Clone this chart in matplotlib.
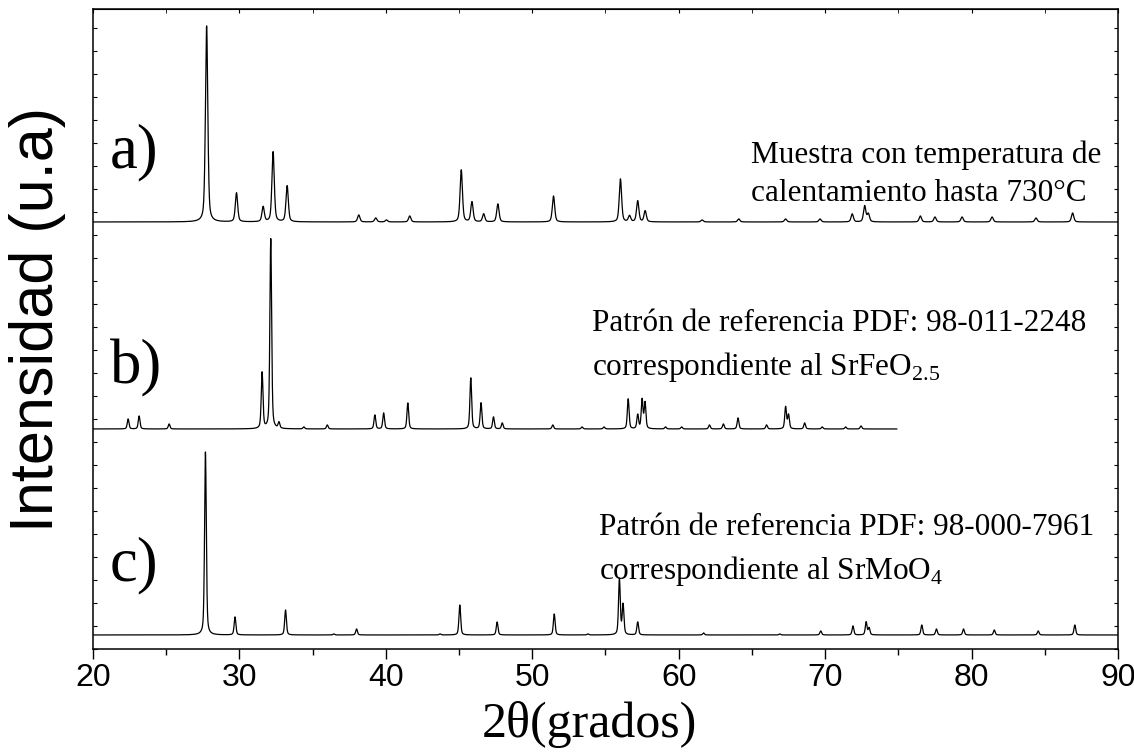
import numpy as np
import matplotlib
matplotlib.use('Agg')
import matplotlib.pyplot as plt
from matplotlib.ticker import MultipleLocator

plt.rcParams['mathtext.fontset'] = 'custom'
plt.rcParams['mathtext.rm'] = 'Liberation Serif'

# Peak positions (2theta, degrees) and heights (a.u.)
pos_a = [27.76, 29.80, 31.62, 32.30, 33.26, 38.15, 39.31, 40.04, 41.63, 45.15,
         45.88, 46.68, 47.65, 51.45, 56.02, 56.64, 57.20, 57.71, 61.6, 64.1,
         67.3, 69.65, 71.85, 72.7, 72.95, 76.5, 77.5, 79.35, 81.4, 84.4, 86.9]
hgt_a = [196, 29, 15, 70, 36, 7, 4, 2, 6, 52,
         20, 8, 18, 26, 43, 6, 21, 11, 2, 3,
         3, 3, 8, 16, 8, 6, 5, 5, 5, 4, 9]

pos_b = [22.4, 23.15, 25.2, 31.55, 32.14, 32.7, 34.4, 36.0, 39.25, 39.85,
         41.5, 45.8, 46.5, 47.35, 47.95, 51.4, 53.4, 54.9, 56.55, 57.2,
         57.5, 57.7, 59.1, 60.2, 62.1, 63.05, 64.05, 66.0, 67.3, 67.5,
         68.6, 69.8, 71.4, 72.45]
hgt_b = [10, 13, 5, 56, 190, 6, 2, 4, 14, 16,
         26, 51, 26, 12, 6, 4, 2, 2, 30, 14,
         29, 26, 2, 2, 4, 5, 11, 4, 22, 14,
         6, 2, 2, 3]

pos_c = [27.68, 29.7, 33.15, 36.45, 38.0, 43.7, 45.05, 47.6, 51.5, 53.8,
         55.95, 56.2, 57.2, 61.7, 66.9, 69.7, 71.9, 72.8, 73.0, 76.6,
         77.6, 79.45, 81.55, 84.55, 87.05]
hgt_c = [183, 18, 25, 1, 6, 1, 30, 13, 21, 1,
         56, 30, 13, 2, 1, 4, 9, 13, 7, 10,
         6, 6, 5, 4, 10]

offsets = [427, 220, 14]
x_end = [90, 74.9, 90]
fwhm = [0.19, 0.14, 0.14]
labels = ['a)', 'b)', 'c)']


def pattern(x, pos, hgt, w, eta=0.45):
    y = np.zeros_like(x)
    for p, h in zip(pos, hgt):
        d = (x - p) / (w / 2)
        y += h * (eta / (1 + d ** 2) + (1 - eta) * np.exp(-np.log(2) * d ** 2))
    return y


fig = plt.figure(figsize=(11.34, 7.54), dpi=100)
ax = fig.add_axes([0.0820, 0.1393, 0.9039, 0.8488])

series = [(pos_a, hgt_a), (pos_b, hgt_b), (pos_c, hgt_c)]
for (pos, hgt), off, xe, w in zip(series, offsets, x_end, fwhm):
    x = np.arange(20, xe, 0.01)
    ax.plot(x, pattern(x, pos, hgt, w) + off, color='black', lw=0.9)

ax.set_xlim(20, 90)
ax.set_ylim(0, 640)

serif = 'Liberation Serif'
for lab, ypos in zip(labels, [482, 266, 69]):
    ax.text(21.15, ypos, lab, family=serif, fontsize=45, va='baseline', ha='left')

ax.text(64.96, 486, 'Muestra con temperatura de', family=serif, fontsize=22.5, va='baseline')
ax.text(64.96, 448, 'calentamiento hasta 730°C', family=serif, fontsize=22.5, va='baseline')
ax.text(54.11, 318, 'Patrón de referencia PDF: 98-011-2248', family=serif, fontsize=22.5, va='baseline')
ax.text(54.11, 274, r'correspondiente al SrFeO$_{\mathrm{2.5}}$', family=serif, fontsize=22.5, va='baseline')
ax.text(54.59, 114, 'Patrón de referencia PDF: 98-000-7961', family=serif, fontsize=22.5, va='baseline')
ax.text(54.59, 70, r'correspondiente al SrMoO$_{\mathrm{4}}$', family=serif, fontsize=22.5, va='baseline')

ax.xaxis.set_major_locator(MultipleLocator(10))
ax.xaxis.set_minor_locator(MultipleLocator(5))
ax.tick_params(axis='x', which='major', direction='out', length=7, width=1.0,
               labelsize=23, pad=3)
ax.tick_params(axis='x', which='minor', direction='out', length=4, width=1.0)
top = ax.secondary_xaxis('top')
top.xaxis.set_minor_locator(MultipleLocator(5))
top.tick_params(which='both', direction='in', length=3, labeltop=False)
for lbl in ax.get_xticklabels():
    lbl.set_family('Liberation Sans')

# small ticks on the left and right spines, no labels
ax.yaxis.set_major_locator(MultipleLocator(23))
ax.tick_params(axis='y', which='major', direction='in', length=3, width=0.8,
               left=True, right=True, labelleft=False)

for s in ax.spines.values():
    s.set_linewidth(1.1)

ax.set_xlabel('2θ(grados)', family=serif, fontsize=36)
ax.xaxis.set_label_coords(0.484, -0.082)
ax.set_ylabel('Intensidad (u.a)', family='Liberation Sans', fontsize=44)
ax.yaxis.set_label_coords(-0.026, 0.515)

fig.savefig('out.png', dpi=100)
